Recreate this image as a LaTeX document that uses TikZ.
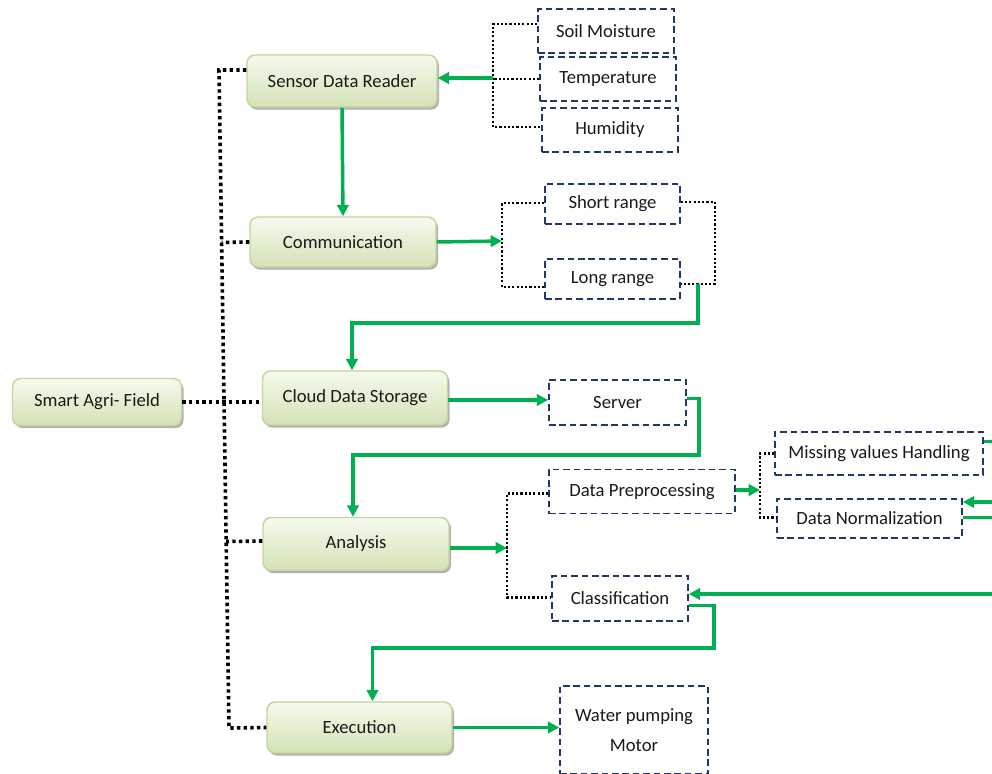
\documentclass[tikz,border=0pt]{standalone}
\usepackage{fontspec}
\setmainfont{Carlito}
\usetikzlibrary{calc,shadows,arrows.meta}
\definecolor{gfillA}{HTML}{F6FAEE}
\definecolor{gfillB}{HTML}{D3E2B6}
\definecolor{gborder}{HTML}{C3D69B}
\definecolor{navy}{HTML}{1F3864}
\definecolor{greenline}{HTML}{00B050}
\definecolor{txt}{HTML}{1A1A1A}
\begin{document}
\begin{tikzpicture}[x=0.75pt,y=-0.75pt,
  font=\fontsize{14}{17}\selectfont,
  sz/.style 2 args={minimum width=#1*0.75pt, minimum height=#2*0.75pt},
  gbox/.style={draw=gborder, line width=1.1pt, rounded corners=6pt,
    top color=gfillA, bottom color=gfillB, text=txt, inner sep=0pt,
    drop shadow={shadow xshift=1.5pt, shadow yshift=-2pt, opacity=0.3, fill=black}},
  dbox/.style={draw=navy, line width=1.2pt, dash pattern=on 5pt off 2.8pt,
    fill=white, text=txt, inner sep=0pt},
  trunk/.style={draw=black, line width=2.7pt, dash pattern=on 2.5pt off 2.5pt},
  brk/.style={draw=black, line width=1.8pt, dash pattern=on 1.6pt off 1.6pt},
  gline/.style={draw=greenline, line width=2.6pt},
  garrow/.style={gline, -{Triangle[length=8.5pt,width=8.5pt]}}
]
\useasboundingbox (0,0) rectangle (992,774);
\fill[white] (0,0) rectangle (992,774);

% main green boxes
\node[gbox, sz={169}{47}] (smart) at (97,402) {Smart Agri- Field};
\node[gbox, sz={190}{52}] (sensor) at (342,81) {Sensor Data Reader};
\node[gbox, sz={186}{50}] (comm) at (343,242) {Communication};
\node[gbox, sz={185}{54}] (cloud) at (355,398) {Cloud Data Storage};
\node[gbox, sz={186}{53}] (analysis) at (356,544) {Analysis};
\node[gbox, sz={185}{51}] (exec) at (359.5,727.5) {Execution};

% dashed boxes
\node[dbox, sz={136}{44}] (soil) at (606,31) {Soil Moisture};
\node[dbox, sz={136}{44}] (temp) at (608,79) {Temperature};
\node[dbox, sz={136}{44}] (hum) at (610,130) {Humidity};
\node[dbox, sz={135}{40}] (short) at (612.5,204) {Short range};
\node[dbox, sz={135}{40}] (long) at (612.5,279) {Long range};
\node[dbox, sz={137}{45}] (server) at (617.5,402.5) {Server};
\node[dbox, sz={186}{44}] (dprep) at (642,491.5) {Data Preprocessing};
\node[dbox, sz={136}{45}] (classif) at (620,598.5) {Classification};
\node[dbox, sz={208}{43}] (missing) at (879,453.5) {Missing values Handling};
\node[dbox, sz={185}{39}] (dnorm) at (869.5,518.5) {Data Normalization};
\node[dbox, sz={148}{88}, align=center] (motor) at (634,730) {Water pumping\\[6pt]Motor};

% dotted trunk from Smart Agri- Field
\coordinate (t1) at (219,70);
\coordinate (t2) at (229,728);
\draw[trunk] ($(sensor.west)+(0,-11)$) -- (t1) -- (t2) -- (exec.west);
\draw[trunk] (comm.west) -- ($(t1)!(comm.west)!(t2)$);
\coordinate (aw) at ($(analysis.west)+(0,-3)$);
\draw[trunk] (aw) -- ($(t1)!(aw)!(t2)$);
\draw[trunk] (smart.east) -- (smart.east -| cloud.west);

% sensors bracket
\coordinate (sb) at (493,78);
\draw[brk] ($(soil.west)+(0,-7)$) -| (sb) |- ($(hum.west)+(0,-3)$);
\draw[brk] (temp.west) -- (temp.west -| sb);
\draw[garrow] (sb) -- (sb -| sensor.east);

% sensor -> communication
\draw[garrow] (sensor.south) -- (comm.north);

% communication bracket
\coordinate (cb) at (502,241);
\draw[garrow] (comm.east) -- (cb);
\draw[brk] ($(short.west)+(0,-1)$) -| (cb) |- ($(long.west)+(0,8)$);
\coordinate (lr) at (698,284);
\draw[brk] ($(short.east)+(0,-2)$) -- ++(34,0) |- ($(long.east)+(0,5)$);

% long range -> cloud
\draw[garrow] (lr) -- (698,323) -| ($(cloud.north)+(-3,0)$);

% cloud -> server
\coordinate (ce) at ($(cloud.east)+(0,2)$);
\draw[garrow] (ce) -- (ce -| server.west);

% server -> analysis
\draw[garrow] ($(server.east)+(0,-4)$) -| (699,455) -| ($(analysis.north)+(-3,0)$);

% analysis bracket
\coordinate (ab) at (507,548);
\draw[garrow] ($(analysis.east)+(0,4)$) -- (ab);
\draw[brk] ($(dprep.west)+(0,2)$) -| (ab) |- ($(classif.west)+(0,-1)$);

% preprocessing bracket
\coordinate (db) at (760,490);
\draw[garrow] ($(dprep.east)+(0,-1.5)$) -- (db);
\draw[brk] (missing.west) -| (db) |- ($(dnorm.west)+(0,-1)$);

% stubs running off the right edge
\coordinate (r1) at (1000,502);
\coordinate (r2) at (1000,594);
\draw[gline] ($(missing.east)+(0,-12)$) -- ++(30,0);
\draw[garrow] (r1) -- (r1 -| dnorm.east);
\draw[gline] ($(dnorm.east)+(0,-1)$) -- ++(50,0);
\draw[garrow] (r2) -- (r2 -| classif.east);

% classification -> execution
\draw[garrow] ($(classif.east)+(0,7)$) -| (714,648) -| ($(exec.north)+(13,0)$);

% execution -> motor
\draw[garrow] (exec.east) -- (exec.east -| motor.west);
\end{tikzpicture}
\end{document}
